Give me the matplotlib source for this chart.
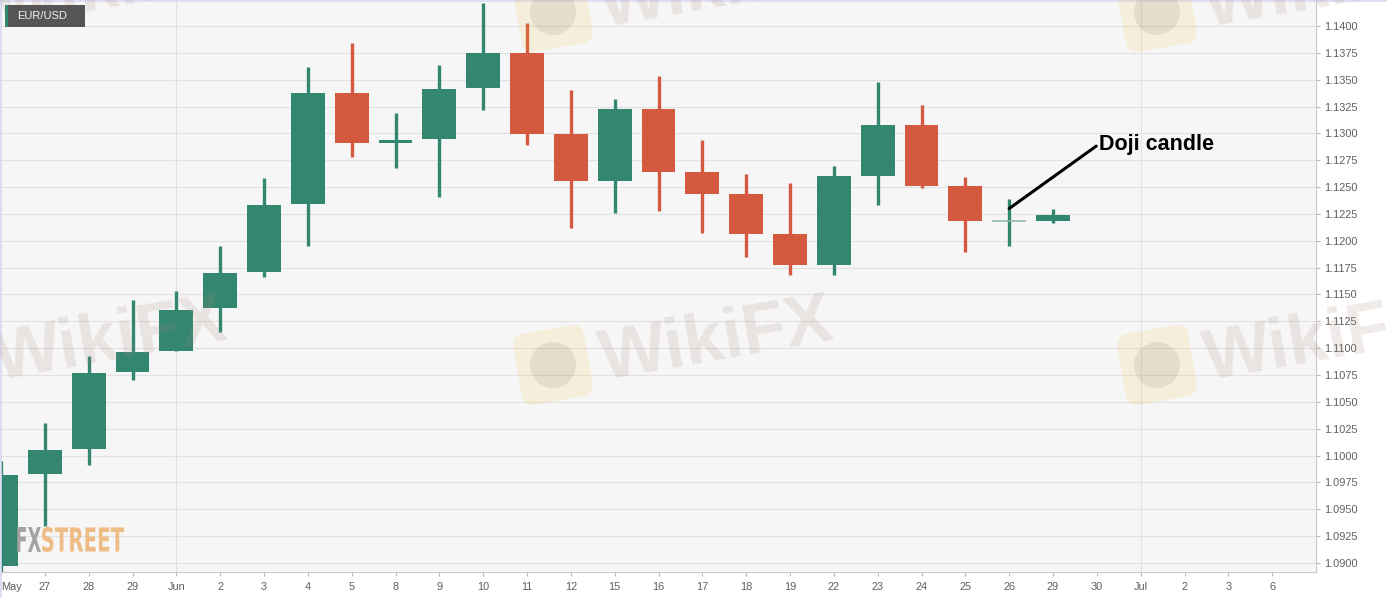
import numpy as np
import matplotlib
matplotlib.use("Agg")
import matplotlib.pyplot as plt
from matplotlib.patches import Rectangle, FancyBboxPatch, Circle, PathPatch
from matplotlib.textpath import TextPath
from matplotlib.font_manager import FontProperties
from matplotlib.transforms import Affine2D, IdentityTransform
from matplotlib.lines import Line2D

# daily EUR/USD candles, 26 May - 29 Jun 2020
dates = ["May", "27", "28", "29", "Jun", "2", "3", "4", "5", "8", "9", "10",
         "11", "12", "15", "16", "17", "18", "19", "22", "23", "24", "25",
         "26", "29", "30", "Jul", "2", "3", "6"]
opens = [1.0897, 1.0983, 1.1006, 1.1078, 1.1097, 1.1137, 1.1171, 1.1234,
         1.1338, 1.1291, 1.1295, 1.1342, 1.1375, 1.1299, 1.1256, 1.1323,
         1.1264, 1.1244, 1.1206, 1.1177, 1.1260, 1.1308, 1.1251, 1.1218,
         1.1218]
highs = [1.0995, 1.1030, 1.1093, 1.1145, 1.1153, 1.1195, 1.1258, 1.1362,
         1.1384, 1.1319, 1.1364, 1.1421, 1.1403, 1.1340, 1.1332, 1.1353,
         1.1294, 1.1262, 1.1254, 1.1270, 1.1348, 1.1326, 1.1259, 1.1239,
         1.1230]
lows = [1.0890, 1.0934, 1.0991, 1.1070, 1.1097, 1.1115, 1.1166, 1.1195,
        1.1278, 1.1268, 1.1241, 1.1322, 1.1289, 1.1212, 1.1226, 1.1228,
        1.1207, 1.1185, 1.1168, 1.1168, 1.1233, 1.1249, 1.1190, 1.1195,
        1.1217]
closes = [1.0982, 1.1005, 1.1077, 1.1096, 1.1136, 1.1170, 1.1233, 1.1338,
          1.1291, 1.1294, 1.1341, 1.1375, 1.1299, 1.1256, 1.1323, 1.1264,
          1.1244, 1.1206, 1.1177, 1.1260, 1.1308, 1.1251, 1.1218, 1.1218,
          1.1224]
yticks = np.arange(1.09, 1.14001, 0.0025)
month_lines = [4, 26]          # Jun, Jul
doji_idx = 23

GREEN, RED = "#338670", "#d5593f"
W_PX, H_PX = 1387, 598

fig = plt.figure(figsize=(W_PX / 100, H_PX / 100), dpi=100)
fig.patch.set_facecolor("white")
ax = fig.add_axes([1 / W_PX, 26 / H_PX, 1315 / W_PX, 570 / H_PX])
ax.set_facecolor("#f6f6f6")

x = np.arange(len(opens))
o, h, l, c = map(np.array, (opens, highs, lows, closes))
col = np.where(c >= o, GREEN, RED)
ax.vlines(x, l, h, colors=col, lw=2.4, zorder=3)
body = np.abs(c - o)
real = body > 1e-6
ax.bar(x[real], body[real], bottom=np.minimum(o, c)[real], width=0.775,
       color=col[real], edgecolor="none", zorder=4)
# open == close: just a thin dash
ax.hlines(o[~real], x[~real] - 0.39, x[~real] + 0.39, colors="#8cb3a6",
          lw=1.1, zorder=4)

ax.set_xlim(0, 30.0)
ax.set_ylim(1.08916, 1.14223)
ax.set_yticks(yticks)
ax.set_yticklabels([f"{v:.4f}" for v in yticks])
ax.set_xticks(np.arange(len(dates)))
ax.set_xticklabels(dates)
ax.xaxis.get_ticklabels()[0].set_ha("left")
ax.yaxis.tick_right()
ax.tick_params(axis="both", colors="#bbbbbb", labelcolor="#5f5f5f",
               labelsize=7.9, length=3, width=0.8)
ax.tick_params(axis="y", pad=3)
ax.tick_params(axis="x", pad=4)
for lab in ax.get_xticklabels() + ax.get_yticklabels():
    lab.set_fontfamily("Liberation Sans")
ax.grid(axis="y", color="#e2e2e2", lw=0.8, zorder=0)
for m in month_lines:
    ax.axvline(m, color="#e2e2e2", lw=0.8, zorder=0)
for s in ("top", "left"):
    ax.spines[s].set_visible(False)
for s in ("right", "bottom"):
    ax.spines[s].set_color("#cccccc")
    ax.spines[s].set_linewidth(0.8)

ax.annotate("Doji candle", xy=(doji_idx, 1.1230), xytext=(25.05, 1.1290),
            fontsize=15.5, fontweight="bold", family="Liberation Sans",
            ha="left", va="center", zorder=6,
            arrowprops=dict(arrowstyle="-", color="black", lw=2.2,
                            shrinkA=0, shrinkB=0, relpos=(0, 0.5)))

# WikiFX watermarks (logo + word), pixel coords from top-left
ident = IdentityTransform()
for lx, ly in [(-53, 12), (553, 12), (1157, 12),
               (-53, 365), (553, 365), (1157, 365)]:
    yy = H_PX - ly
    tr = Affine2D().rotate_deg_around(lx, yy, 10) + ident
    fig.add_artist(FancyBboxPatch((lx - 36, yy - 36), 72, 72,
                                  boxstyle="round,pad=0,rounding_size=12",
                                  transform=tr, fc="#f2c030", ec="none",
                                  alpha=0.14, zorder=10))
    fig.add_artist(Circle((lx, yy), 23, transform=tr, fc="#8c7c7c",
                          ec="none", alpha=0.15, zorder=10))
    fig.text(lx + 48, yy + 3, "WikiFX", transform=ident, rotation=10,
             rotation_mode="anchor", ha="left", va="center", fontsize=51,
             fontweight="bold", family="Liberation Sans", color="#a8887e",
             alpha=0.17, zorder=10)

# FXSTREET logo, squeezed to the box it takes in the picture
fp = FontProperties(family="Liberation Sans Narrow", weight="bold")
for word, x0, x1, colr in [("FX", 17, 41, "#9a9a9a"),
                            ("STREET", 42, 124, "#f0b679")]:
    tp = TextPath((0, 0), word, size=100, prop=fp)
    ext = tp.get_extents()
    tr = (Affine2D().translate(-ext.x0, -ext.y0)
          .scale((x1 - x0) / ext.width, 25 / ext.height)
          .translate(x0, H_PX - 552) + ident)
    fig.add_artist(PathPatch(tp, transform=tr, fc=colr, ec="none",
                             alpha=0.9, zorder=9))

# EUR/USD tag
fig.add_artist(Rectangle((5, H_PX - 27), 80, 22, transform=ident,
                         fc="#555555", ec="none", zorder=11))
fig.add_artist(Rectangle((5, H_PX - 27), 3, 22, transform=ident,
                         fc=GREEN, ec="none", zorder=12))
fig.text(17, H_PX - 16, "EUR/USD", transform=ident, ha="left", va="center",
         fontsize=8, color="#f2f2f2", family="Liberation Sans", zorder=12)

# thin lavender frame on top and left
fig.add_artist(Line2D([0, 1], [0.999, 0.999], transform=fig.transFigure,
                      color="#d8d8f0", lw=1.2))
fig.add_artist(Line2D([0.0004, 0.0004], [0, 1], transform=fig.transFigure,
                      color="#d8d8f0", lw=1.2))

fig.savefig("out.png", dpi=100)
